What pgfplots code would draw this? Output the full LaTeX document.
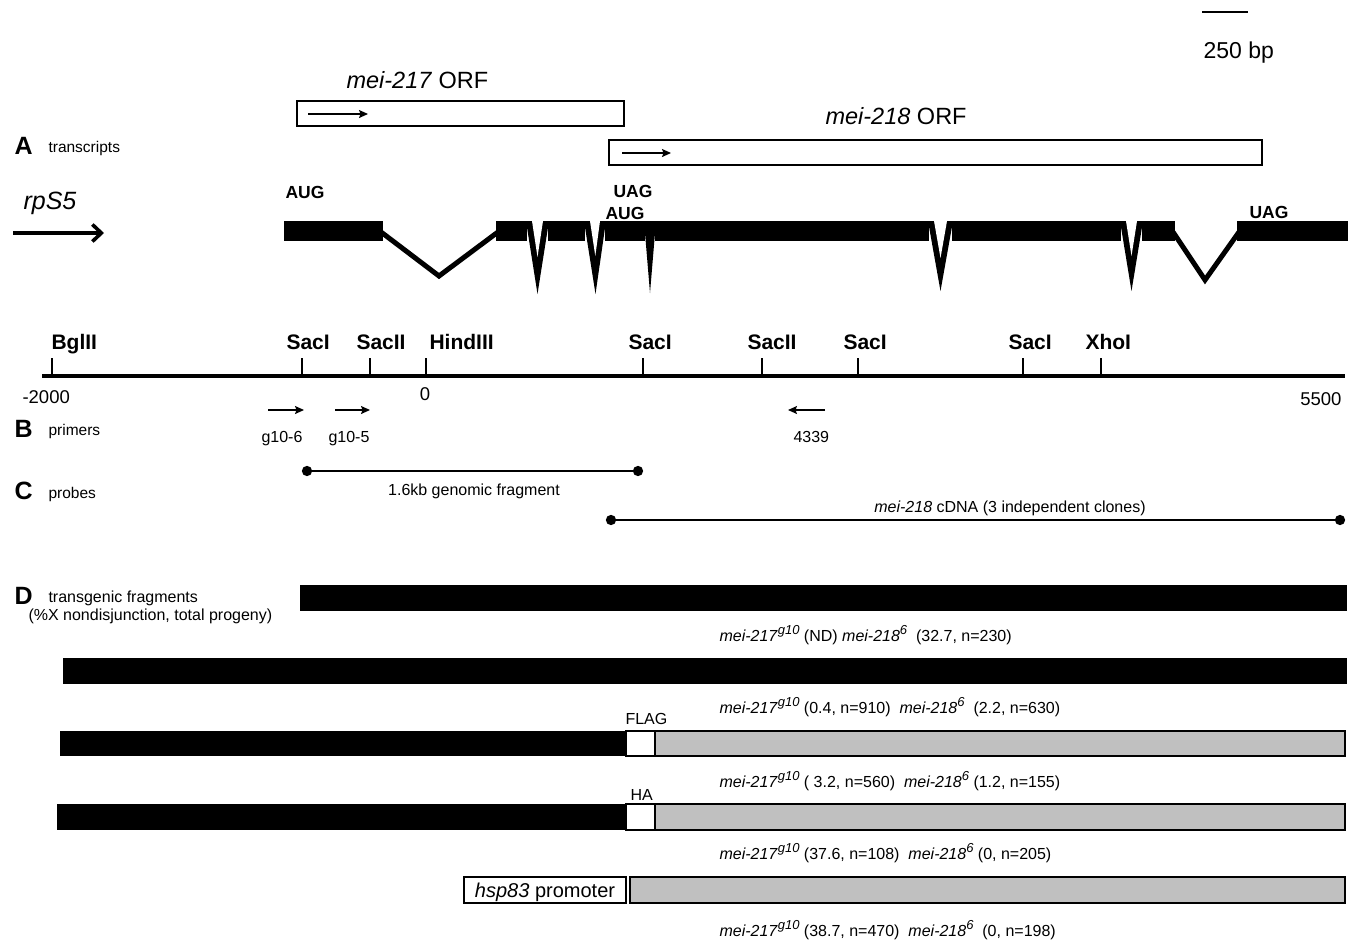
\documentclass[border=0pt]{standalone}
\usepackage{fontspec}
\setmainfont{Liberation Sans}
\usepackage{pgfplots}
\pgfplotsset{compat=1.18}
\usetikzlibrary{arrows.meta}
\definecolor{gfill}{RGB}{192,192,192}
\newcommand\fs[1]{\fontsize{#1}{#1}\selectfont}
\newcommand{\R}[5][]{\addplot[#1] coordinates {(#2,#3) (#4,#3) (#4,#5) (#2,#5)} -- cycle;}
\newcommand{\supr}[1]{\raisebox{0.42em}{\fs{13}\itshape #1}}
\newcommand{\ga}{\textit{mei-217}\supr{g10}}
\newcommand{\gb}{\textit{mei-218}\supr{6}}
\begin{document}
\begin{tikzpicture}
\begin{axis}[name=ax, width=1358pt, height=943pt, scale only axis, hide axis,
  xmin=0, xmax=1358, ymin=0, ymax=943, y dir=reverse, clip=false,
  every node/.style={inner sep=0pt, outer sep=0pt}]
% scale bar
\addplot[line width=1.4pt] coordinates {(1202,12) (1248,12)};
\node[anchor=base west, font=\fs{23}] at (1200,58) {250 bp};
% ORF boxes
\node[anchor=base west, font=\fs{23.5}] at (343,88) {\textit{mei-217} ORF};
\R[draw=black, line width=1.3pt, fill=white]{297}{101}{624}{126}
\addplot[line width=1.3pt, -{Stealth[length=9pt,width=8pt,inset=1.5pt]}] coordinates {(308,114) (368,114)};
\node[anchor=base west, font=\fs{23.5}] at (822,124) {\textit{mei-218} ORF};
\R[draw=black, line width=1.3pt, fill=white]{609}{140}{1262}{165}
\addplot[line width=1.3pt, -{Stealth[length=9pt,width=8pt,inset=1.5pt]}] coordinates {(622,153) (671,153)};
% Section A
\node[anchor=base west, font=\fs{25}\bfseries] at (11,154) {A};
\node[anchor=base west, font=\fs{15.5}] at (45,152) {transcripts};
\node[anchor=base west, font=\fs{25}\itshape] at (20,209) {rpS5};
\addplot[line width=3.6pt, -{Straight Barb[length=9pt,width=17pt]}] coordinates {(13,233) (104,233)};
\node[anchor=base west, font=\fs{17.5}\bfseries] at (282,198) {AUG};
\node[anchor=base west, font=\fs{17.5}\bfseries] at (610,197) {UAG};
\node[anchor=base west, font=\fs{17.5}\bfseries] at (602,219) {AUG};
\node[anchor=base west, font=\fs{17.5}\bfseries] at (1246,218) {UAG};
% exons
\R[fill=black, draw=none]{284}{221}{383}{241}
\R[fill=black, draw=none]{496}{221}{527}{241}
\R[fill=black, draw=none]{548}{221}{585}{241}
\R[fill=black, draw=none]{605}{221}{645}{241}
\R[fill=black, draw=none]{655}{221}{929}{241}
\R[fill=black, draw=none]{952}{221}{1121}{241}
\R[fill=black, draw=none]{1142}{221}{1175}{241}
\R[fill=black, draw=none]{1237}{221}{1348}{241}
% wide introns
\addplot[line width=5pt, line join=miter] coordinates {(381,232) (439,276) (498,232)};
\addplot[line width=5pt, line join=miter] coordinates {(1173,232) (1205,280) (1239,232)};
% narrow introns
\addplot[fill=black, draw=none] coordinates {(526,221) (537.5,294) (549,221)} -- cycle;
\addplot[fill=white, draw=none] coordinates {(532,221) (537.5,257) (543,221)} -- cycle;
\addplot[fill=black, draw=none] coordinates {(584,221) (595.5,294) (606,221)} -- cycle;
\addplot[fill=white, draw=none] coordinates {(590,221) (595.3,256) (600,221)} -- cycle;
\addplot[fill=black, draw=none] coordinates {(644,221) (650,293) (656,221)} -- cycle;
\addplot[fill=black, draw=none] coordinates {(928,221) (940.5,291) (953,221)} -- cycle;
\addplot[fill=white, draw=none] coordinates {(934,221) (940.5,258) (947,221)} -- cycle;
\addplot[fill=black, draw=none] coordinates {(1120,221) (1131.5,291) (1143,221)} -- cycle;
\addplot[fill=white, draw=none] coordinates {(1126,221) (1131.5,256) (1137,221)} -- cycle;
% restriction map
\addplot[line width=4.8pt] coordinates {(42,376) (1345,376)};
\addplot[line width=1.3pt] coordinates {(52,358) (52,376)};
\addplot[line width=1.3pt] coordinates {(302,358) (302,376)};
\addplot[line width=1.3pt] coordinates {(370,358) (370,376)};
\addplot[line width=1.3pt] coordinates {(426,358) (426,376)};
\addplot[line width=1.3pt] coordinates {(643,358) (643,376)};
\addplot[line width=1.3pt] coordinates {(762,358) (762,376)};
\addplot[line width=1.3pt] coordinates {(858,358) (858,376)};
\addplot[line width=1.3pt] coordinates {(1023,358) (1023,376)};
\addplot[line width=1.3pt] coordinates {(1101,358) (1101,376)};
\node[anchor=base west, font=\fs{21}\bfseries] at (48,349) {BglII};
\node[anchor=base west, font=\fs{21}\bfseries] at (283,349) {SacI};
\node[anchor=base west, font=\fs{21}\bfseries] at (353,349) {SacII};
\node[anchor=base west, font=\fs{21}\bfseries] at (426,349) {HindIII};
\node[anchor=base west, font=\fs{21}\bfseries] at (625,349) {SacI};
\node[anchor=base west, font=\fs{21}\bfseries] at (744,349) {SacII};
\node[anchor=base west, font=\fs{21}\bfseries] at (840,349) {SacI};
\node[anchor=base west, font=\fs{21}\bfseries] at (1005,349) {SacI};
\node[anchor=base west, font=\fs{21}\bfseries] at (1082,349) {XhoI};
\node[anchor=base west, font=\fs{18.5}] at (19,403) {-2000};
\node[anchor=base, font=\fs{18.5}] at (425,400) {0};
\node[anchor=base east, font=\fs{18.5}] at (1345,405) {5500};
% Section B
\node[anchor=base west, font=\fs{25}\bfseries] at (11,437) {B};
\node[anchor=base west, font=\fs{15.5}] at (45,435) {primers};
\addplot[line width=1.3pt, -{Stealth[length=9pt,width=8pt,inset=1.5pt]}] coordinates {(268,410) (304,410)};
\addplot[line width=1.3pt, -{Stealth[length=9pt,width=8pt,inset=1.5pt]}] coordinates {(335,410) (370,410)};
\addplot[line width=1.3pt, -{Stealth[length=9pt,width=8pt,inset=1.5pt]}] coordinates {(825,410) (788,410)};
\node[anchor=base west, font=\fs{16}] at (258,442) {g10-6};
\node[anchor=base west, font=\fs{16}] at (325,442) {g10-5};
\node[anchor=base west, font=\fs{16}] at (790,442) {4339};
% Section C
\node[anchor=base west, font=\fs{25}\bfseries] at (11,499) {C};
\node[anchor=base west, font=\fs{15.5}] at (45,498) {probes};
\addplot[line width=1.2pt, mark=*, mark size=4.5pt] coordinates {(307,471) (638,471)};
\node[anchor=base, font=\fs{16}] at (474,495) {1.6kb genomic fragment};
\addplot[line width=1.2pt, mark=*, mark size=4.5pt] coordinates {(611,520) (1340,520)};
\node[anchor=base, font=\fs{16}] at (1010,512) {\textit{mei-218} cDNA (3 independent clones)};
% Section D
\node[anchor=base west, font=\fs{25}\bfseries] at (11,604) {D};
\node[anchor=base west, font=\fs{16}] at (45,602) {transgenic fragments};
\node[anchor=base west, font=\fs{16}] at (25,620) {(\%X nondisjunction, total progeny)};
\R[fill=black, draw=none]{300}{585}{1347}{611}
\node[anchor=base west, font=\fs{16}] at (716,641) {\ga{} (ND) \gb{}\ \ (32.7, n=230)};
\R[fill=black, draw=none]{63}{658}{1347}{684}
\node[anchor=base west, font=\fs{16}] at (716,713) {\ga{} (0.4, n=910)\ \ \gb{}\ \ (2.2, n=630)};
\node[anchor=base west, font=\fs{16}] at (622,724) {FLAG};
\R[fill=black, draw=none]{60}{731}{626}{756}
\R[fill=white, draw=black, line width=1.2pt]{626}{731}{655}{756}
\R[fill=gfill, draw=black, line width=1.2pt]{655}{731}{1345}{756}
\node[anchor=base west, font=\fs{16}] at (716,787) {\ga{} ( 3.2, n=560)\ \ \gb{} (1.2, n=155)};
\node[anchor=base west, font=\fs{16}] at (627,800) {HA};
\R[fill=black, draw=none]{57}{804}{626}{830}
\R[fill=white, draw=black, line width=1.2pt]{626}{804}{655}{830}
\R[fill=gfill, draw=black, line width=1.2pt]{655}{804}{1345}{830}
\node[anchor=base west, font=\fs{16}] at (716,859) {\ga{} (37.6, n=108)\ \ \gb{} (0, n=205)};
\R[fill=white, draw=black, line width=1.2pt]{464}{877}{626}{903}
\node[anchor=base, font=\fs{20}] at (545,897) {\textit{hsp83} promoter};
\R[fill=gfill, draw=black, line width=1.2pt]{630}{877}{1345}{903}
\node[anchor=base west, font=\fs{16}] at (716,936) {\ga{} (38.7, n=470)\ \ \gb{}\ \ (0, n=198)};
\end{axis}
\pgfresetboundingbox
\path (ax.south west) rectangle (ax.north east);
\end{tikzpicture}
\end{document}
